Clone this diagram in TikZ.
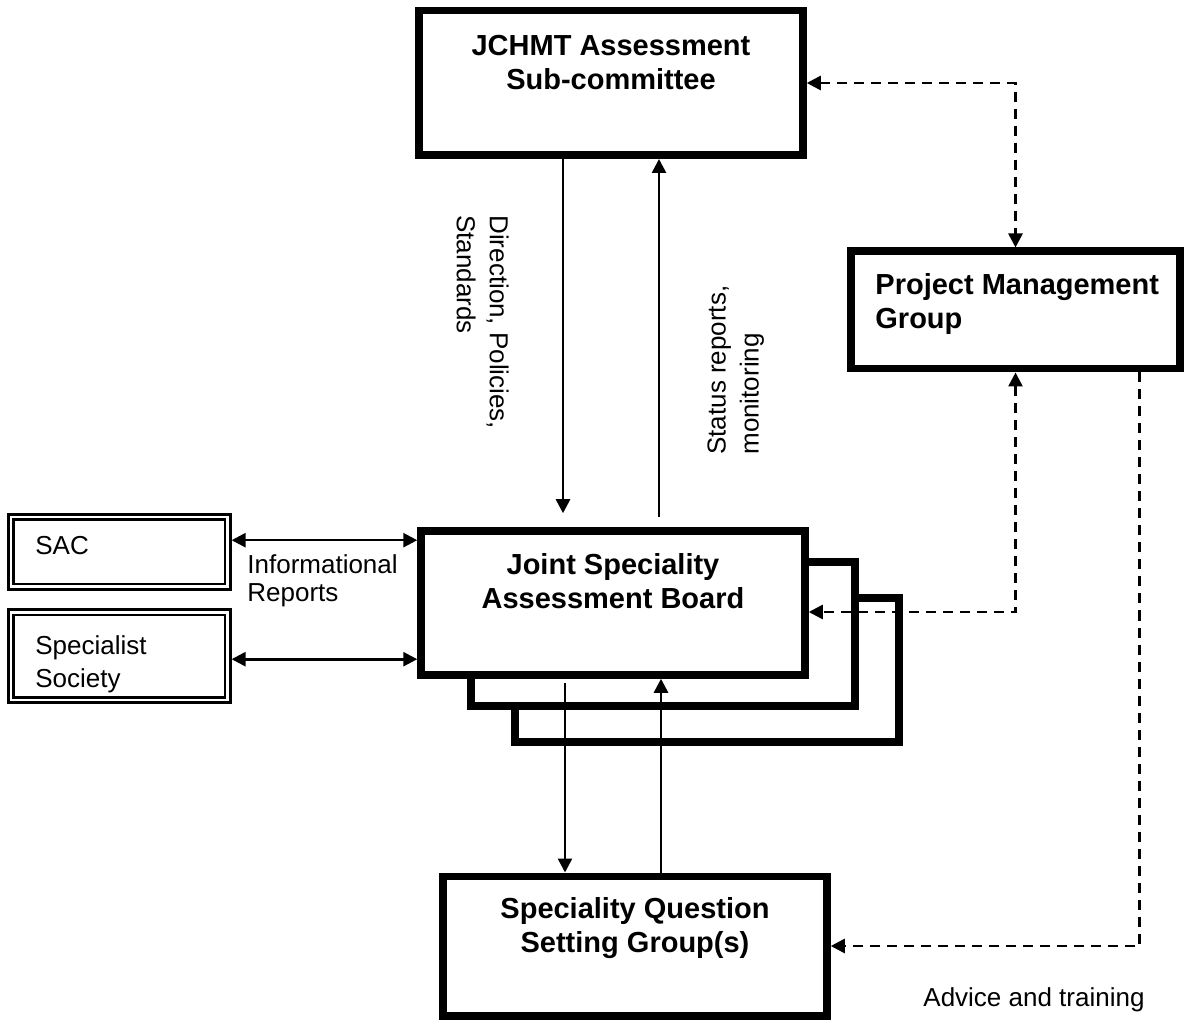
\documentclass[tikz,border=0pt]{standalone}
\usepackage{fontspec}
\setmainfont{Liberation Sans}
\usetikzlibrary{arrows.meta,positioning}

\begin{document}
\begin{tikzpicture}[x=0.5pt, y=-0.5pt,
	>={Triangle[length=7pt,width=7pt]},
	bigbox/.style={draw, line width=3.75pt, fill=white, inner sep=0pt},
	dblbox/.style={draw, double, line width=1.4pt, double distance=1.2pt, outer sep=2pt, inner sep=0pt, fill=white, minimum width=108.4pt},
	boldtxt/.style={font=\fontsize{14.5}{17}\selectfont\bfseries, align=center, inner sep=0pt},
	plaintxt/.style={font=\fontsize{13}{16.5}\selectfont, align=left, inner sep=0pt},
	link/.style={line width=1.3pt},
	dashlink/.style={line width=1.3pt, dash pattern=on 5pt off 3.5pt}]
	\useasboundingbox (0,0) rectangle (1184,1021);
	%\draw[step=50, black!20] (0,0) grid (1184,1021);
	\node[bigbox, minimum width=192pt, minimum height=72.25pt] (jchmt) at (611,83) {};
	\node[boldtxt, anchor=north] (jchmttxt) at (611,35) {JCHMT Assessment\\Sub-committee};
	\node[bigbox, minimum width=164.5pt, minimum height=58.75pt] (pmg) at (1015.5,310) {};
	\node[boldtxt, align=left, anchor=north west] (pmgtxt) at (875,273) {Project Management\\Group};
	% stacked boards, back to front
	\node[bigbox, minimum width=192pt, minimum height=72pt] (jsab3) at (707,670) {};
	\node[bigbox, minimum width=192pt, minimum height=72pt] (jsab2) at (663,634) {};
	\node[bigbox, minimum width=192pt, minimum height=72pt] (jsab) at (613,603) {};
	\node[boldtxt, anchor=north] (jsabtxt) at (613,553) {Joint Speciality\\Assessment Board};
	\node[bigbox, minimum width=192pt, minimum height=69.75pt] (sqsg) at (635,946) {};
	\node[boldtxt, anchor=north] (sqsgtxt) at (635,897) {Speciality Question\\Setting Group(s)};
	\node[dblbox, minimum height=34.9pt] (sac) at (119.2,551.7) {};
	\node[plaintxt, anchor=north west] (sactxt) at (35,536) {SAC};
	\node[dblbox, minimum height=43.8pt] (sps) at (119.2,656.2) {};
	\node[plaintxt, anchor=north west] (spstxt) at (35,635) {Specialist\\Society};
	\node[plaintxt, font=\fontsize{13}{14}\selectfont, anchor=north west] (info) at (247,554) {Informational\\Reports};
	\node[plaintxt, rotate=-90, anchor=north west] (dirlbl) at (509,215) {Direction, Policies,\\Standards};
	\node[plaintxt, rotate=90, anchor=north west] (statlbl) at (707,455) {Status reports,\\monitoring};
	\node[plaintxt, anchor=north west] (advice) at (923,987) {Advice and training};
	\draw[link, ->, shorten >=7pt] ([xshift=-24pt]jchmt.south) -- ([xshift=-24pt]jchmt.south |- jsab.north);
	\draw[link, ->, shorten <=5pt] ([xshift=24pt]jchmt.south |- jsab.north) -- ([xshift=24pt]jchmt.south);
	\draw[link, ->, shorten <=2pt] ([xshift=-24pt]jsab.south) -- ([xshift=-24pt]jsab.south |- sqsg.north);
	\draw[link, ->] ([xshift=24pt]jsab.south |- sqsg.north) -- ([xshift=24pt]jsab.south);
	\draw[link, <->] ([yshift=5.75pt]sac.east) -- ([yshift=5.75pt]sac.east -| jsab.west);
	\draw[link, <->] ([yshift=-1.5pt]sps.east) -- ([yshift=-1.5pt]sps.east -| jsab.west);
	\draw[dashlink, <->] (jchmt.east) -| (pmg.north);
	\draw[dashlink, <->] (pmg.south) |- ([yshift=-4.5pt]jsab.east);
	\draw[dashlink, ->] ([xshift=62pt]pmg.south) |- (sqsg.east);
\end{tikzpicture}
\end{document}
